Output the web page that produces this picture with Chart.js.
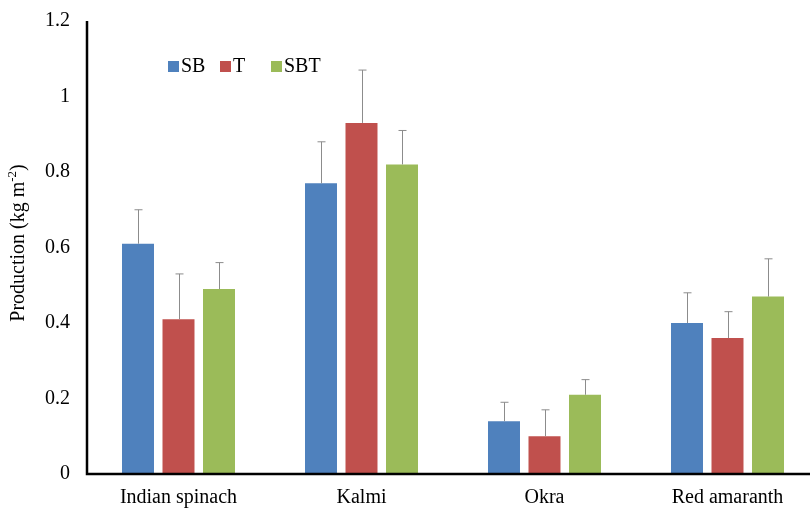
<!DOCTYPE html>
<html>
<head>
<meta charset="utf-8">
<script src="https://cdn.jsdelivr.net/npm/chart.js@4.4.1/dist/chart.umd.min.js"></script>
<style>
  html, body { margin: 0; padding: 0; background: #fff; overflow: hidden; }
  #frame { width: 810px; height: 508px; overflow: hidden; }
  #wrap { width: 819px; height: 508px; }
</style>
</head>
<body>
<div id="frame"><div id="wrap"><canvas id="production"></canvas></div></div>
<script>
const crops = ['Indian spinach', 'Kalmi', 'Okra', 'Red amaranth'];
const seriesNames = ['SB', 'T', 'SBT'];
const seriesColors = ['#4F81BD', '#C0504D', '#9BBB59'];

// mean production, kg m-2
const sbValues = [0.61, 0.77, 0.14, 0.40];
const tValues = [0.41, 0.93, 0.10, 0.36];
const sbtValues = [0.49, 0.82, 0.21, 0.47];

// top of the error bar (mean + SD)
const sbErrTop = [0.70, 0.88, 0.19, 0.48];
const tErrTop = [0.53, 1.07, 0.17, 0.43];
const sbtErrTop = [0.56, 0.91, 0.25, 0.57];

const yTicks = [0, 0.2, 0.4, 0.6, 0.8, 1, 1.2];

const FONT = '"Liberation Serif", "Times New Roman", serif';

const allValues = [sbValues, tValues, sbtValues];
const allErr = [sbErrTop, tErrTop, sbtErrTop];

const errorBars = {
  id: 'errorBars',
  afterDatasetsDraw(chart) {
    const { ctx } = chart;
    const y = chart.scales.y;
    ctx.save();
    ctx.strokeStyle = '#8c8c8c';
    ctx.lineWidth = 1;
    chart.data.datasets.forEach((ds, di) => {
      const meta = chart.getDatasetMeta(di);
      meta.data.forEach((bar, i) => {
        const x = Math.round(bar.x) + 0.5;
        const top = y.getPixelForValue(ds.errTop[i]);
        ctx.beginPath();
        ctx.moveTo(x, bar.y);
        ctx.lineTo(x, top);
        ctx.moveTo(x - 4, top);
        ctx.lineTo(x + 4, top);
        ctx.stroke();
      });
    });
    ctx.restore();
  },
};

const extras = {
  id: 'extras',
  afterDraw(chart) {
    const { ctx, chartArea } = chart;
    ctx.save();
    // axis lines
    ctx.strokeStyle = '#000';
    ctx.lineWidth = 2.5;
    ctx.beginPath();
    ctx.moveTo(chartArea.left, chartArea.top);
    ctx.lineTo(chartArea.left, chartArea.bottom);
    ctx.lineTo(chartArea.right, chartArea.bottom);
    ctx.stroke();

    // legend
    ctx.font = '20px ' + FONT;
    ctx.textBaseline = 'middle';
    const legendX = [168, 220, 271];
    seriesNames.forEach((name, i) => {
      ctx.fillStyle = seriesColors[i];
      ctx.fillRect(legendX[i], 61, 11, 11);
      ctx.fillStyle = '#000';
      ctx.fillText(name, legendX[i] + 13, 67);
    });

    // y title with superscript
    ctx.translate(24, 243);
    ctx.rotate(-Math.PI / 2);
    ctx.textBaseline = 'alphabetic';
    const a = 'Production (kg m';
    const sup = '-2';
    const b = ')';
    ctx.font = '20px ' + FONT;
    const wa = ctx.measureText(a).width;
    const wb = ctx.measureText(b).width;
    ctx.font = '13px ' + FONT;
    const ws = ctx.measureText(sup).width;
    let x = -(wa + ws + wb) / 2;
    ctx.font = '20px ' + FONT;
    ctx.fillText(a, x, 0);
    x += wa;
    ctx.font = '13px ' + FONT;
    ctx.fillText(sup, x, -8);
    x += ws;
    ctx.font = '20px ' + FONT;
    ctx.fillText(b, x, 0);
    ctx.restore();
  },
};

new Chart('production', {
  type: 'bar',
  data: {
    labels: crops,
    datasets: seriesNames.map((name, i) => ({
      label: name,
      data: allValues[i],
      errTop: allErr[i],
      backgroundColor: seriesColors[i],
      categoryPercentage: 0.664,
      barPercentage: 0.79,
    })),
  },
  options: {
    responsive: true,
    maintainAspectRatio: false,
    animation: false,
    layout: { padding: { top: 21, right: 0, left: 0, bottom: 0 } },
    plugins: {
      legend: { display: false },
      tooltip: { enabled: false },
    },
    scales: {
      x: {
        grid: { display: false, drawTicks: false },
        border: { display: false },
        ticks: {
          color: '#000',
          padding: 12,
          font: { family: FONT, size: 20 },
          maxRotation: 0,
        },
        afterFit(scale) {
          scale.height = 34;
          scale.paddingLeft = 0;
          scale.paddingRight = 0;
        },
      },
      y: {
        min: 0,
        max: 1.2,
        afterBuildTicks(scale) { scale.ticks = yTicks.map(v => ({ value: v })); },
        grid: { display: false, drawTicks: false },
        border: { display: false },
        ticks: {
          color: '#000',
          padding: 17,
          font: { family: FONT, size: 20 },
          callback: v => String(Math.round(v * 10) / 10),
        },
        afterFit(scale) {
          scale.width = 87;
          scale.paddingTop = 0;
          scale.paddingBottom = 0;
        },
      },
    },
  },
  plugins: [errorBars, extras],
});
</script>
</body>
</html>
